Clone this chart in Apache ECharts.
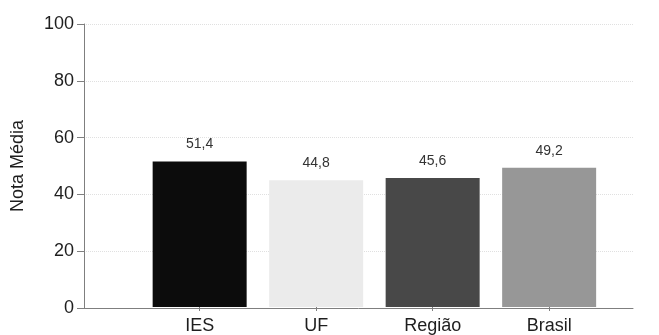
<!DOCTYPE html>
<html>
<head>
<meta charset="utf-8">
<script src="https://cdn.jsdelivr.net/npm/echarts@6/dist/echarts.min.js"></script>
<style>
  html, body { margin: 0; padding: 0; background: #fff; }
  #chart { width: 659px; height: 335px; }
</style>
</head>
<body>
<div id="chart"></div>
<script>
// Average score per scope
const categories = ['IES', 'UF', 'Região', 'Brasil'];
const scores = [51.4, 44.8, 45.6, 49.2];
const barColors = ['#0c0c0c', '#ebebeb', '#484848', '#979797'];
const yTicks = [0, 20, 40, 60, 80, 100];

const FONT = '"Liberation Sans", Arial, sans-serif';
const AXIS_GRAY = '#7f7f7f';

const chart = echarts.init(document.getElementById('chart'), null, { renderer: 'canvas' });

chart.setOption({
  backgroundColor: '#ffffff',
  animation: false,
  grid: [
    // frame: value axis, gridlines and the full-width baseline
    { left: 84, right: 26, top: 24, bottom: 27, containLabel: false },
    // plotting band for the bars
    { left: 141.4, right: 51.6, top: 24, bottom: 27, containLabel: false }
  ],
  xAxis: [
    {
      gridIndex: 0, type: 'value', min: 0, max: 1,
      axisLine: { show: true, lineStyle: { color: AXIS_GRAY, width: 1 } },
      axisTick: { show: false }, axisLabel: { show: false }, splitLine: { show: false }
    },
    {
      gridIndex: 1, type: 'category', data: categories,
      axisLine: { show: false },
      axisTick: { show: true, alignWithLabel: true, length: 4, lineStyle: { color: AXIS_GRAY } },
      axisLabel: { color: '#1e1e1e', fontFamily: FONT, fontSize: 18, margin: 10 }
    }
  ],
  yAxis: [
    {
      gridIndex: 0, type: 'value', min: yTicks[0], max: yTicks[yTicks.length - 1], interval: 20,
      name: 'Nota Média', nameLocation: 'middle', nameGap: 57,
      nameTextStyle: { color: '#1e1e1e', fontFamily: FONT, fontSize: 18 },
      axisLine: { show: true, lineStyle: { color: AXIS_GRAY, width: 1 } },
      axisTick: { show: true, length: 7, lineStyle: { color: AXIS_GRAY } },
      axisLabel: { color: '#1e1e1e', fontFamily: FONT, fontSize: 18, margin: 10 },
      splitLine: { show: true, lineStyle: { color: '#e0e0e0', type: 'dotted', width: 1 } }
    },
    {
      gridIndex: 1, type: 'value', min: 0, max: 100, show: false
    }
  ],
  series: [
    {
      type: 'bar',
      xAxisIndex: 1, yAxisIndex: 1,
      barWidth: 94,
      data: scores.map((v, i) => ({ value: v, itemStyle: { color: barColors[i] } })),
      label: {
        show: true, position: 'top', distance: 10,
        color: '#333', fontFamily: FONT, fontSize: 14,
        formatter: p => p.value.toFixed(1).replace('.', ',')
      }
    }
  ]
});
</script>
</body>
</html>
